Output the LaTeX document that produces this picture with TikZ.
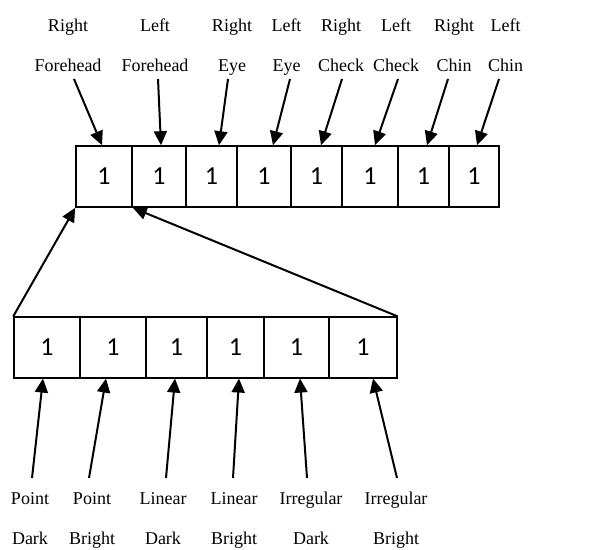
\documentclass[tikz,border=0pt]{standalone}
\usepackage{fontspec}
\setmainfont{Liberation Serif}
\newfontfamily\numfont{Carlito}
\usetikzlibrary{arrows.meta,calc}
\begin{document}
\begin{tikzpicture}[x=1pt,y=-1pt,
  cell/.style={draw,line width=1.6pt,rectangle,inner sep=0pt,minimum height=61pt,font=\numfont\fontsize{26}{26}\selectfont},
  bcell/.style={cell,minimum height=60.5pt},
  lab/.style={align=center,inner sep=0pt,font=\fontsize{18}{40}\selectfont,anchor=base},
  arr/.style={line width=2pt,-{Triangle[length=14pt,width=13pt]}}]
\useasboundingbox (0,0) rectangle (607,549);
% top row
\node[cell,minimum width=56pt] (t1) at (104,176.5) {1};
\node[cell,minimum width=54pt] (t2) at (159,176.5) {1};
\node[cell,minimum width=51pt] (t3) at (211.5,176.5) {1};
\node[cell,minimum width=54pt] (t4) at (264,176.5) {1};
\node[cell,minimum width=51pt] (t5) at (316.5,176.5) {1};
\node[cell,minimum width=56pt] (t6) at (370,176.5) {1};
\node[cell,minimum width=51pt] (t7) at (423.5,176.5) {1};
\node[cell,minimum width=50pt] (t8) at (474,176.5) {1};
% bottom row
\node[bcell,minimum width=66pt] (b1) at (47,347.5) {1};
\node[bcell,minimum width=66pt] (b2) at (113,347.5) {1};
\node[bcell,minimum width=61pt] (b3) at (176.5,347.5) {1};
\node[bcell,minimum width=57pt] (b4) at (235.5,347.5) {1};
\node[bcell,minimum width=65pt] (b5) at (296.5,347.5) {1};
\node[bcell,minimum width=68pt] (b6) at (363,347.5) {1};
% top labels
\node[lab] (l1) at (68,71) {Right\\Forehead};
\node[lab] (l2) at (155,71) {Left\\Forehead};
\node[lab] (l3) at (232,71) {Right\\Eye};
\node[lab] (l4) at (286.5,71) {Left\\Eye};
\node[lab] (l5) at (341,71) {Right\\Check};
\node[lab] (l6) at (396,71) {Left\\Check};
\node[lab] (l7) at (454,71) {Right\\Chin};
\node[lab] (l8) at (505.5,71) {Left\\Chin};
% bottom labels
\node[lab] (m1) at (30,544) {Point\\Dark};
\node[lab] (m2) at (92,544) {Point\\Bright};
\node[lab] (m3) at (163,544) {Linear\\Dark};
\node[lab] (m4) at (234,544) {Linear\\Bright};
\node[lab] (m5) at (311,544) {Irregular\\Dark};
\node[lab] (m6) at (396,544) {Irregular\\Bright};
% arrow tails
\coordinate (s1) at (74,79);
\coordinate (s2) at (158,79);
\coordinate (s3) at (228,79);
\coordinate (s4) at (290,79);
\coordinate (s5) at (342,79);
\coordinate (s6) at (398,79);
\coordinate (s7) at (448,79);
\coordinate (s8) at (499,79);
\coordinate (u1) at (32,478);
\coordinate (u2) at (89,478);
\coordinate (u3) at (166,478);
\coordinate (u4) at (233,478);
\coordinate (u5) at (307,478);
\coordinate (u6) at (397,478);
% top arrows
\draw[arr] (s1) -- ($(t1.north)+(-2,0)$);
\draw[arr] (s2) -- ($(t2.north)+(2,0)$);
\draw[arr] (s3) -- ($(t3.north)+(7.5,0)$);
\draw[arr] (s4) -- ($(t4.north)+(9,0)$);
\draw[arr] (s5) -- ($(t5.north)+(4.5,0)$);
\draw[arr] (s6) -- ($(t6.north)+(5,0)$);
\draw[arr] (s7) -- ($(t7.north)+(3.5,0)$);
\draw[arr] (s8) -- ($(t8.north)+(3,0)$);
% bottom arrows
\draw[arr] (u1) -- ($(b1.south)+(-4,0)$);
\draw[arr] (u2) -- ($(b2.south)+(-7,0)$);
\draw[arr] (u3) -- ($(b3.south)+(-1.5,0)$);
\draw[arr] (u4) -- ($(b4.south)+(3.5,0)$);
\draw[arr] (u5) -- ($(b5.south)+(3.5,0)$);
\draw[arr] (u6) -- ($(b6.south)+(10,0)$);
% expansion lines
\draw[arr] (b1.north west) -- (t1.south west);
\draw[arr] (b6.north east) -- (t1.south east);
\end{tikzpicture}
\end{document}
